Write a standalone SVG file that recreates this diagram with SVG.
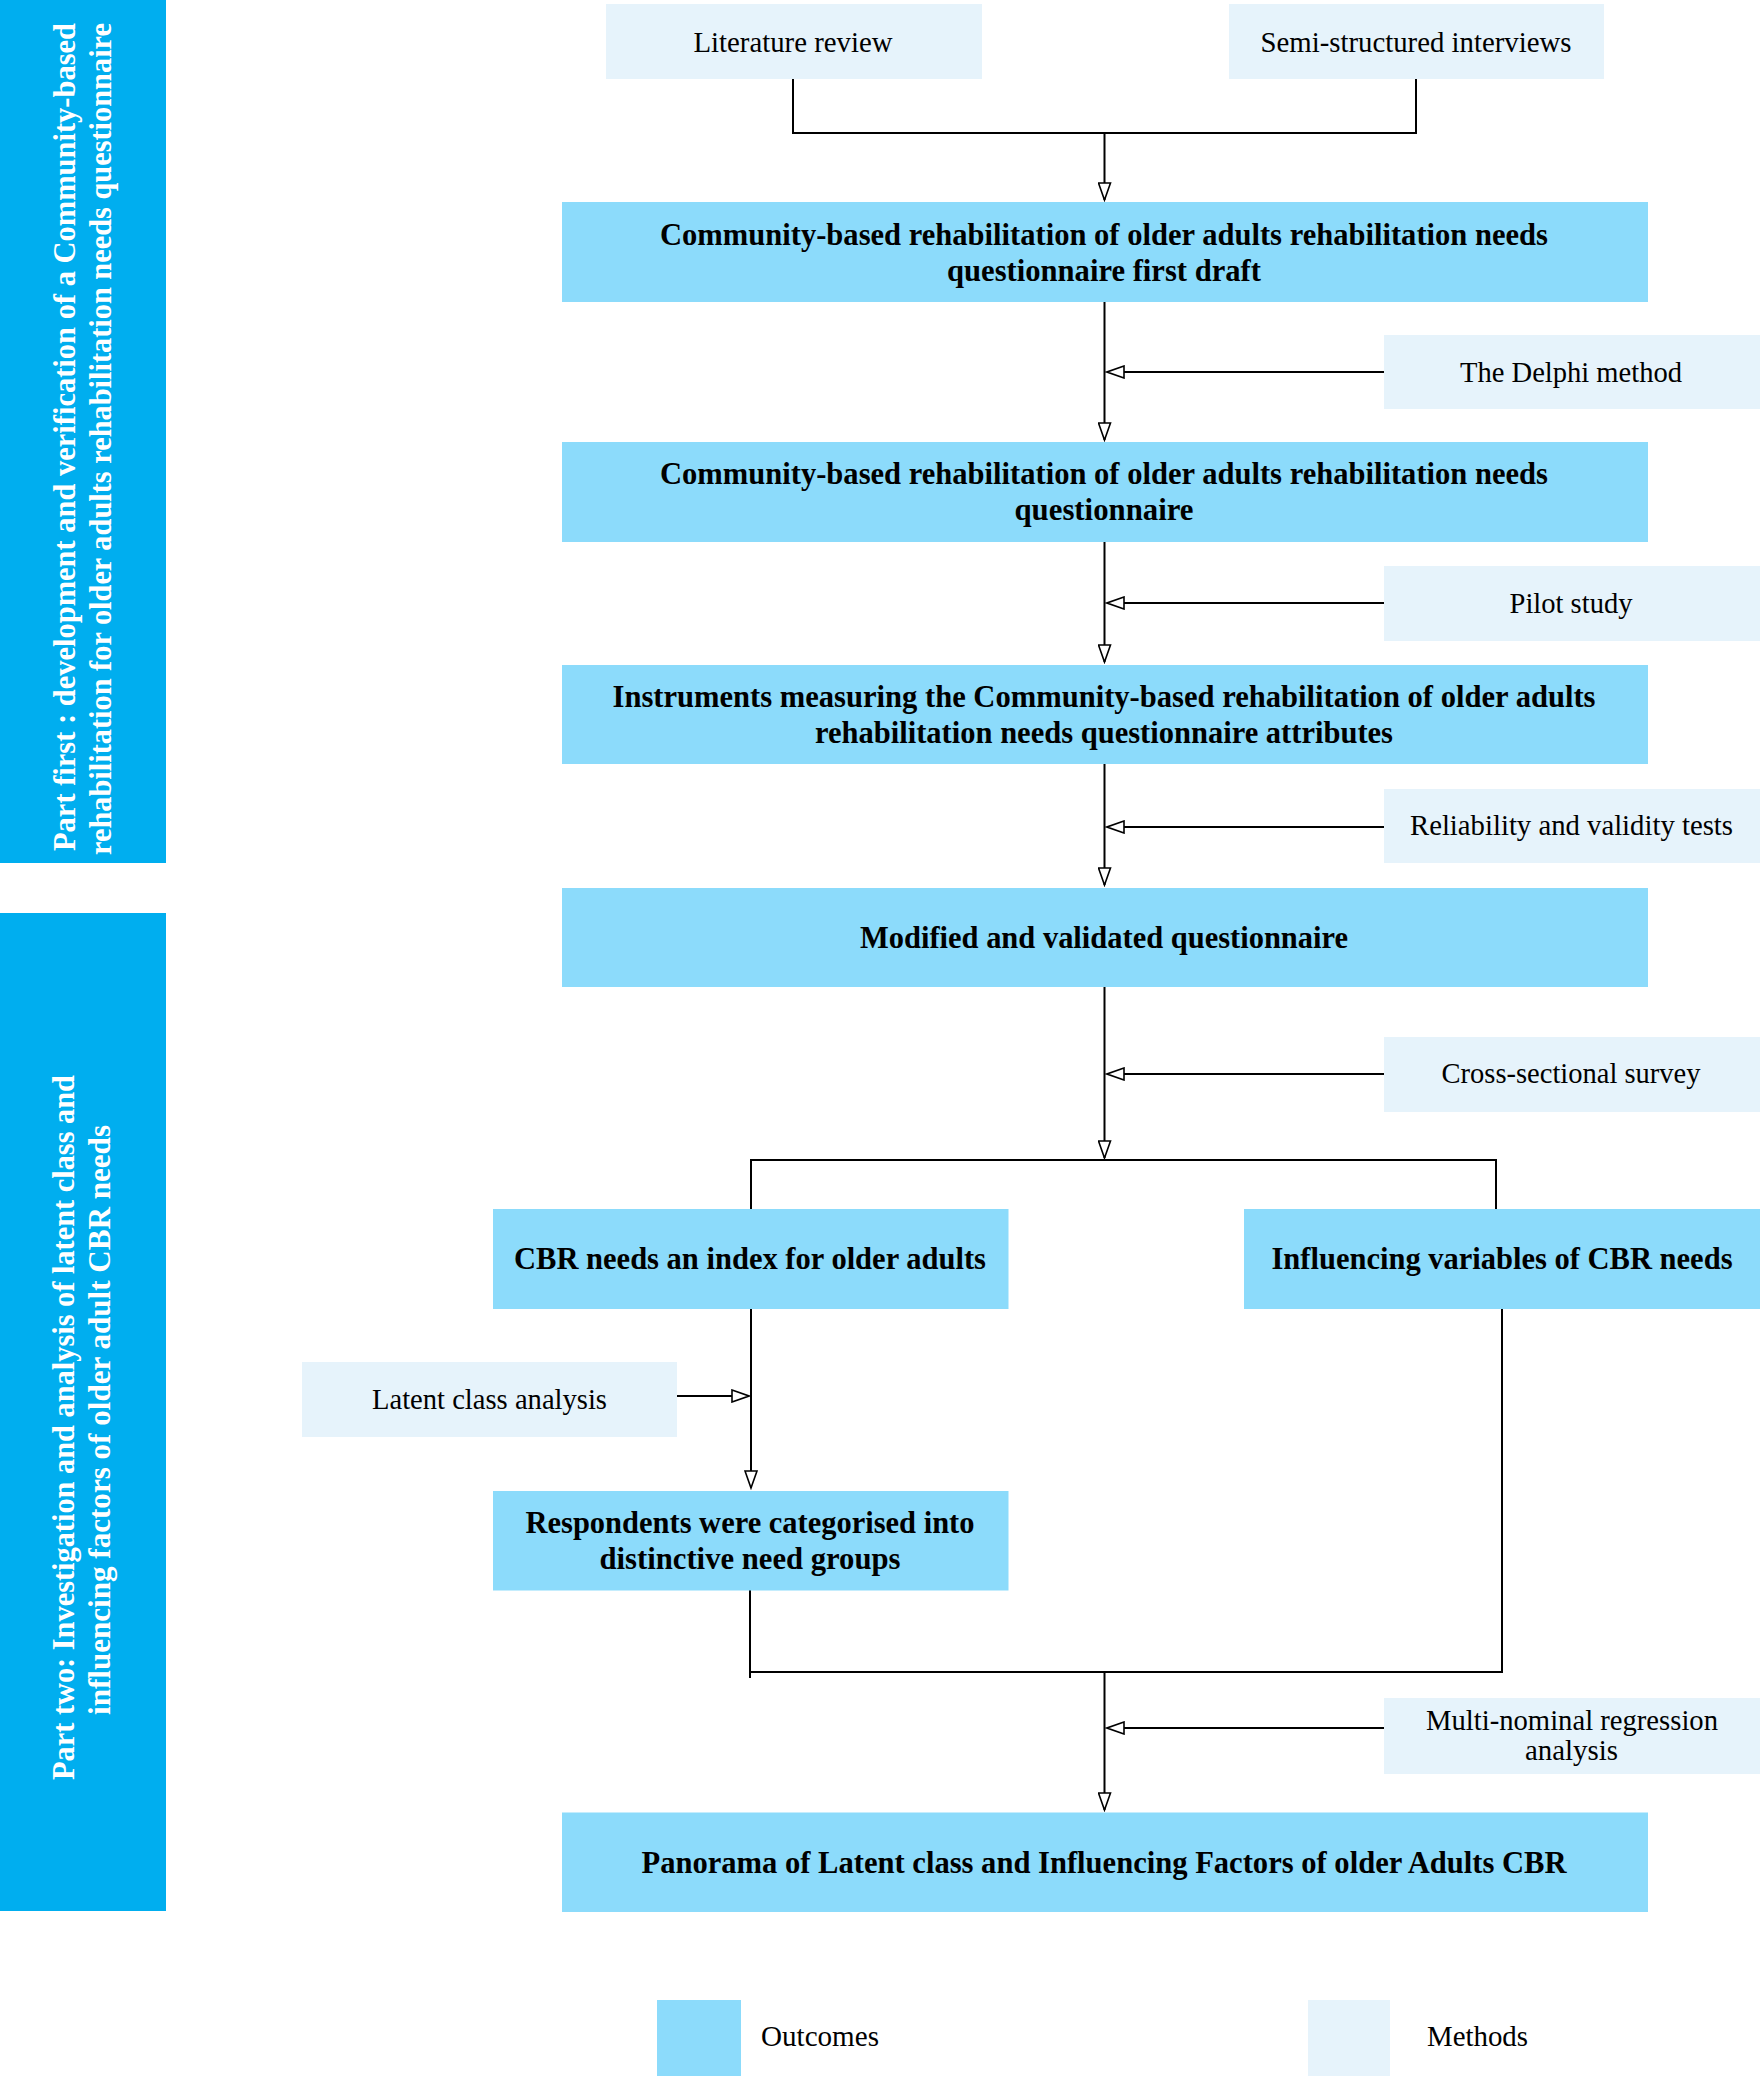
<svg xmlns="http://www.w3.org/2000/svg" width="1760" height="2076" viewBox="0 0 1760 2076">
<style>
.bar{fill:#00AEEF}
.out{fill:#8CDBFB}
.met{fill:#E6F3FB}
.bt{font-family:"Liberation Serif","Times New Roman",serif;font-weight:bold;font-size:31px;fill:#000;text-anchor:middle}
.mt{font-family:"Liberation Serif","Times New Roman",serif;font-size:29.5px;fill:#000;text-anchor:middle}
.lt{font-family:"Liberation Serif","Times New Roman",serif;font-size:29.5px;fill:#000}
.wt{font-family:"Liberation Serif","Times New Roman",serif;font-weight:bold;font-size:30.5px;fill:#fff}
.ln{fill:none;stroke:#000;stroke-width:2}
</style>
<defs>
<marker id="arr" markerUnits="userSpaceOnUse" viewBox="0 0 20 14" markerWidth="20" markerHeight="14" refX="18" refY="7" orient="auto">
<path d="M1,1 L18,7 L1,13 Z" fill="#fff" stroke="#000" stroke-width="1.6"/>
</marker>
</defs>
<rect width="1760" height="2076" fill="#fff"/>

<g id="part1">
<rect class="bar" x="0" y="0" width="166" height="863"/>
<text class="wt" transform="translate(75,851) rotate(-90)" textLength="828" lengthAdjust="spacingAndGlyphs">Part first : development and verification of a Community-based</text>
<text class="wt" transform="translate(110.5,855) rotate(-90)" textLength="832" lengthAdjust="spacingAndGlyphs">rehabilitation for older adults rehabilitation needs questionnaire</text>
</g>
<g id="part2">
<rect class="bar" x="0" y="913" width="166" height="998"/>
<text class="wt" transform="translate(74,1780) rotate(-90)" textLength="705" lengthAdjust="spacingAndGlyphs">Part two: Investigation and analysis of latent class and</text>
<text class="wt" transform="translate(110,1715) rotate(-90)" textLength="590" lengthAdjust="spacingAndGlyphs">influencing factors of older adult CBR needs</text>
</g>

<g id="connectors">
<path class="ln" d="M793,79 V133 H1416 M1416,79 V134"/>
<path class="ln" d="M1104.5,133 V200" marker-end="url(#arr)"/>
<path class="ln" d="M1104.5,302 V440" marker-end="url(#arr)"/>
<path class="ln" d="M1384,372 H1107" marker-end="url(#arr)"/>
<path class="ln" d="M1104.5,542 V662" marker-end="url(#arr)"/>
<path class="ln" d="M1384,603 H1107" marker-end="url(#arr)"/>
<path class="ln" d="M1104.5,764 V885" marker-end="url(#arr)"/>
<path class="ln" d="M1384,827 H1107" marker-end="url(#arr)"/>
<path class="ln" d="M1104.5,987 V1158" marker-end="url(#arr)"/>
<path class="ln" d="M1384,1074 H1107" marker-end="url(#arr)"/>
<path class="ln" d="M751,1209 V1160 H1496 V1209"/>
<path class="ln" d="M751,1309 V1488" marker-end="url(#arr)"/>
<path class="ln" d="M677,1396 H749" marker-end="url(#arr)"/>
<path class="ln" d="M750,1590 V1678 M750,1672 H1502 V1309"/>
<path class="ln" d="M1104.5,1672 V1810" marker-end="url(#arr)"/>
<path class="ln" d="M1384,1728 H1107" marker-end="url(#arr)"/>
</g>

<g id="literature-review">
<rect class="met" x="606" y="4" width="376" height="75"/>
<text class="mt" x="793" y="52" textLength="199" lengthAdjust="spacingAndGlyphs">Literature review</text>
</g>
<g id="semi-structured-interviews">
<rect class="met" x="1229" y="4" width="375" height="75"/>
<text class="mt" x="1416" y="52" textLength="311" lengthAdjust="spacingAndGlyphs">Semi-structured interviews</text>
</g>
<g id="first-draft">
<rect class="out" x="562" y="202" width="1086" height="100"/>
<text class="bt" x="1104" y="245" textLength="888" lengthAdjust="spacingAndGlyphs">Community-based rehabilitation of older adults rehabilitation needs</text>
<text class="bt" x="1104" y="281" textLength="314" lengthAdjust="spacingAndGlyphs">questionnaire first draft</text>
</g>
<g id="delphi">
<rect class="met" x="1384" y="335" width="376" height="74"/>
<text class="mt" x="1571" y="382" textLength="222" lengthAdjust="spacingAndGlyphs">The Delphi method</text>
</g>
<g id="questionnaire">
<rect class="out" x="562" y="442" width="1086" height="100"/>
<text class="bt" x="1104" y="484" textLength="888" lengthAdjust="spacingAndGlyphs">Community-based rehabilitation of older adults rehabilitation needs</text>
<text class="bt" x="1104" y="520" textLength="179" lengthAdjust="spacingAndGlyphs">questionnaire</text>
</g>
<g id="pilot">
<rect class="met" x="1384" y="566" width="376" height="75"/>
<text class="mt" x="1571" y="613" textLength="123" lengthAdjust="spacingAndGlyphs">Pilot study</text>
</g>
<g id="instruments">
<rect class="out" x="562" y="665" width="1086" height="99"/>
<text class="bt" x="1104" y="707" textLength="983" lengthAdjust="spacingAndGlyphs">Instruments measuring the Community-based rehabilitation of older adults</text>
<text class="bt" x="1104" y="743" textLength="578" lengthAdjust="spacingAndGlyphs">rehabilitation needs questionnaire attributes</text>
</g>
<g id="reliability">
<rect class="met" x="1384" y="789" width="376" height="74"/>
<text class="mt" x="1571.5" y="835" textLength="323" lengthAdjust="spacingAndGlyphs">Reliability and validity tests</text>
</g>
<g id="modified">
<rect class="out" x="562" y="888" width="1086" height="99"/>
<text class="bt" x="1104" y="948" textLength="488" lengthAdjust="spacingAndGlyphs">Modified and validated questionnaire</text>
</g>
<g id="cross-sectional">
<rect class="met" x="1384" y="1037" width="376" height="75"/>
<text class="mt" x="1571" y="1083" textLength="259" lengthAdjust="spacingAndGlyphs">Cross-sectional survey</text>
</g>
<g id="cbr-index">
<rect class="out" x="493" y="1209" width="515.5" height="100"/>
<text class="bt" x="750" y="1269" textLength="472" lengthAdjust="spacingAndGlyphs">CBR needs an index for older adults</text>
</g>
<g id="influencing">
<rect class="out" x="1244" y="1209" width="516" height="100"/>
<text class="bt" x="1502" y="1269" textLength="461" lengthAdjust="spacingAndGlyphs">Influencing variables of CBR needs</text>
</g>
<g id="latent-class">
<rect class="met" x="302" y="1362" width="375" height="75"/>
<text class="mt" x="489.5" y="1409" textLength="235" lengthAdjust="spacingAndGlyphs">Latent class analysis</text>
</g>
<g id="respondents">
<rect class="out" x="493" y="1491" width="515.5" height="99.5"/>
<text class="bt" x="750" y="1533" textLength="449" lengthAdjust="spacingAndGlyphs">Respondents were categorised into</text>
<text class="bt" x="750" y="1569" textLength="301" lengthAdjust="spacingAndGlyphs">distinctive need groups</text>
</g>
<g id="multinominal">
<rect class="met" x="1384" y="1698" width="376" height="76"/>
<text class="mt" x="1572" y="1730" textLength="292" lengthAdjust="spacingAndGlyphs">Multi-nominal regression</text>
<text class="mt" x="1571.5" y="1760" textLength="93" lengthAdjust="spacingAndGlyphs">analysis</text>
</g>
<g id="panorama">
<rect class="out" x="562" y="1812.5" width="1086" height="99.5"/>
<text class="bt" x="1104" y="1873" textLength="925" lengthAdjust="spacingAndGlyphs">Panorama of Latent class and Influencing Factors of older Adults CBR</text>
</g>

<g id="legend">
<rect class="out" x="657" y="2000" width="84" height="76"/>
<text class="lt" x="761" y="2046" textLength="118" lengthAdjust="spacingAndGlyphs">Outcomes</text>
<rect class="met" x="1308" y="2000" width="82" height="76"/>
<text class="lt" x="1427" y="2046" textLength="101" lengthAdjust="spacingAndGlyphs">Methods</text>
</g>
</svg>
